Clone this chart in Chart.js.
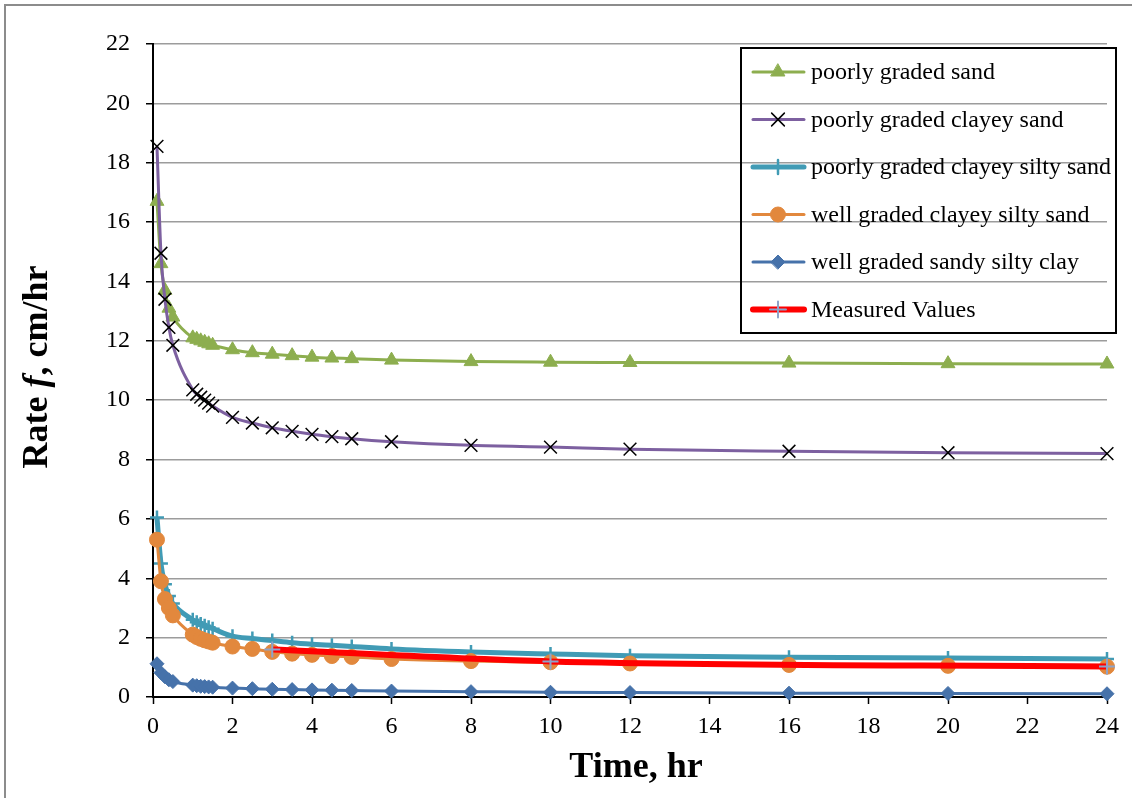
<!DOCTYPE html>
<html>
<head>
<meta charset="utf-8">
<script src="https://cdn.jsdelivr.net/npm/chart.js@4.4.1/dist/chart.umd.min.js"></script>
<style>
  html, body { margin: 0; padding: 0; background: #fff; }
</style>
</head>
<body>
<canvas id="rateChart" width="1132" height="798"></canvas>
<script>
// elapsed time (hr) and infiltration rate f (cm/hr)
var times = [0.1, 0.2, 0.3, 0.4, 0.5, 1, 1.1, 1.2, 1.3, 1.4, 1.5, 2, 2.5, 3, 3.5, 4, 4.5, 5, 6, 8, 10, 12, 16, 20, 24];
var poorlySand = [16.7, 14.6, 13.7, 13.1, 12.8, 12.1, 12.05, 12.0, 11.95, 11.9, 11.85, 11.7, 11.6, 11.55, 11.5, 11.45, 11.42, 11.4, 11.35, 11.3, 11.28, 11.27, 11.25, 11.23, 11.22];
var poorlyClayeySand = [18.55, 14.95, 13.4, 12.45, 11.85, 10.35, 10.2, 10.1, 10.0, 9.9, 9.8, 9.42, 9.23, 9.07, 8.95, 8.85, 8.77, 8.7, 8.6, 8.48, 8.42, 8.35, 8.28, 8.23, 8.2];
var poorlyClayeySiltySand = [6.05, 4.5, 3.8, 3.4, 3.15, 2.6, 2.52, 2.46, 2.4, 2.35, 2.3, 2.05, 1.97, 1.9, 1.83, 1.78, 1.74, 1.7, 1.62, 1.52, 1.45, 1.39, 1.34, 1.31, 1.28];
var wellClayeySiltySand = [5.3, 3.9, 3.3, 3.0, 2.75, 2.1, 2.02, 1.96, 1.91, 1.87, 1.83, 1.7, 1.62, 1.52, 1.46, 1.42, 1.38, 1.35, 1.28, 1.21, 1.17, 1.13, 1.08, 1.05, 1.02];
var wellSandySiltyClay = [1.12, 0.82, 0.68, 0.58, 0.52, 0.4, 0.38, 0.36, 0.35, 0.34, 0.33, 0.3, 0.28, 0.26, 0.25, 0.24, 0.23, 0.22, 0.2, 0.18, 0.16, 0.15, 0.13, 0.12, 0.11];
var measuredTimes = [3, 10, 24];
var measuredRate = [1.6, 1.2, 1.03];

var seriesLabels = ["poorly graded sand", "poorly graded clayey sand", "poorly graded clayey silty sand",
                    "well graded clayey silty sand", "well graded sandy silty clay", "Measured Values"];

var FONT = "'Liberation Serif', 'Times New Roman', serif";

function pts(xs, ys) {
  return xs.map(function (x, i) { return { x: x, y: ys[i] }; });
}

// line colour, line width, marker style, marker colour, marker size
var styles = [
  { line: "#8DAE4F", lw: 3, marker: "triangle", mc: "#8DAE4F", mr: 8, mbw: 1 },
  { line: "#7D60A0", lw: 3, marker: "crossRot", mc: "#000000", mr: 9, mbw: 1.5 },
  { line: "#419BB5", lw: 5, marker: "cross", mc: "#419BB5", mr: 7, mbw: 2.5 },
  { line: "#E2883D", lw: 3, marker: "circle", mc: "#E2883D", mr: 7.5, mbw: 1 },
  { line: "#4672AA", lw: 3, marker: "rectRot", mc: "#4672AA", mr: 7, mbw: 1 },
  { line: "#FF0000", lw: 6, marker: "cross", mc: "#8EA3C9", mr: 8, mbw: 2 }
];

var seriesData = [
  pts(times, poorlySand),
  pts(times, poorlyClayeySand),
  pts(times, poorlyClayeySiltySand),
  pts(times, wellClayeySiltySand),
  pts(times, wellSandySiltyClay),
  pts(measuredTimes, measuredRate)
];

var datasets = seriesData.map(function (d, i) {
  var s = styles[i];
  return {
    label: seriesLabels[i],
    data: d,
    borderColor: s.line,
    borderWidth: s.lw,
    pointStyle: s.marker,
    pointRadius: s.mr,
    pointBackgroundColor: s.mc,
    pointBorderColor: s.mc,
    pointBorderWidth: s.mbw,
    cubicInterpolationMode: "monotone",
    fill: false,
    clip: false,
    order: 5 - i
  };
});

// custom legend box (transparent, gridlines show through like the original)
var legendBox = {
  id: "legendBox",
  afterDraw: function (chart) {
    var ctx = chart.ctx;
    ctx.save();
    ctx.strokeStyle = "#000";
    ctx.lineWidth = 2;
    ctx.strokeRect(741, 48, 375, 285);
    var rows = [72, 119.5, 167, 214.5, 262, 309.5];
    ctx.font = "24px " + FONT;
    ctx.textBaseline = "middle";
    ctx.textAlign = "left";
    rows.forEach(function (y, i) {
      var s = styles[i];
      ctx.strokeStyle = s.line;
      ctx.lineWidth = s.lw;
      ctx.lineCap = "round";
      ctx.beginPath();
      ctx.moveTo(753, y);
      ctx.lineTo(804, y);
      ctx.stroke();
      ctx.fillStyle = s.mc;
      ctx.strokeStyle = s.mc;
      ctx.lineWidth = s.mbw;
      Chart.helpers.drawPoint(ctx, { pointStyle: s.marker, radius: s.mr, borderWidth: s.mbw, rotation: 0 }, 778, y);
      ctx.fillStyle = "#000";
      ctx.fillText(seriesLabels[i], 811, y + 1);
    });
    ctx.restore();
  }
};

// outer frame and axis titles (y title has an italic f)
var frameAndTitles = {
  id: "frameAndTitles",
  beforeDraw: function (chart) {
    var ctx = chart.ctx;
    ctx.save();
    ctx.fillStyle = "#fff";
    ctx.fillRect(0, 0, chart.width, chart.height);
    ctx.strokeStyle = "#8c8c8c";
    ctx.lineWidth = 2;
    ctx.strokeRect(5, 5, 1150, 820);
    ctx.restore();
  },
  afterDraw: function (chart) {
    var ctx = chart.ctx;
    ctx.save();
    ctx.fillStyle = "#000";
    ctx.textBaseline = "middle";
    ctx.font = "bold 36px " + FONT;
    ctx.textAlign = "center";
    ctx.fillText("Time, hr", 636, 768);

    var parts = [
      { t: "Rate ", f: "bold 36px " + FONT },
      { t: "f", f: "italic bold 36px " + FONT },
      { t: ", cm/hr", f: "bold 36px " + FONT }
    ];
    var total = 0;
    parts.forEach(function (p) { ctx.font = p.f; p.w = ctx.measureText(p.t).width; total += p.w; });
    ctx.translate(38, 367);
    ctx.rotate(-Math.PI / 2);
    ctx.textAlign = "left";
    var x = -total / 2;
    parts.forEach(function (p) { ctx.font = p.f; ctx.fillText(p.t, x, 0); x += p.w; });
    ctx.restore();
  }
};

var ctx = document.getElementById("rateChart").getContext("2d");
var rateChart = new Chart(ctx, {
  type: "line",
  data: { datasets: datasets },
  options: {
    responsive: false,
    animation: false,
    layout: { padding: { left: 0, top: 44, right: 25, bottom: 0 } },
    plugins: {
      legend: { display: false },
      tooltip: { enabled: false }
    },
    scales: {
      x: {
        type: "linear",
        min: 0,
        max: 24,
        afterFit: function (scale) { scale.height = 101; },
        ticks: { stepSize: 2, color: "#000", padding: 8, font: { family: FONT, size: 24 } },
        grid: { drawOnChartArea: false, tickLength: 7, tickColor: "#000", tickWidth: 1.5 },
        border: { color: "#000", width: 2 }
      },
      y: {
        min: 0,
        max: 22,
        afterFit: function (scale) { scale.width = 153; },
        ticks: { stepSize: 2, color: "#000", padding: 16, font: { family: FONT, size: 24 } },
        grid: { color: "#9c9c9c", lineWidth: 1.5, tickLength: 7, tickColor: "#000", tickWidth: 1.5 },
        border: { color: "#000", width: 2 }
      }
    }
  },
  plugins: [frameAndTitles, legendBox]
});
</script>
</body>
</html>
